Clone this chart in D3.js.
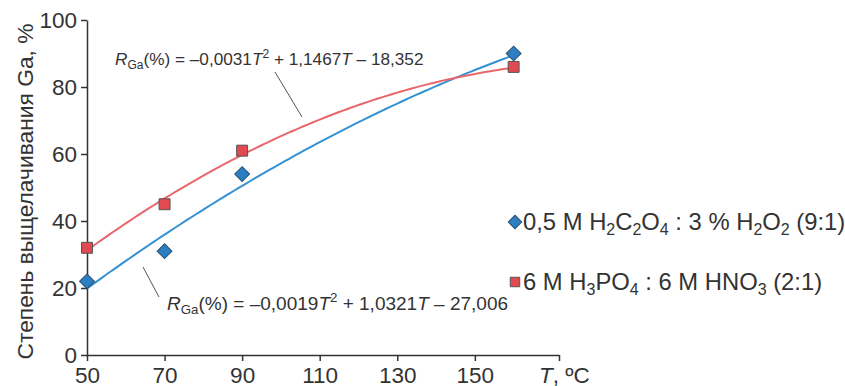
<!DOCTYPE html>
<html>
<head>
<meta charset="utf-8">
<script src="https://cdn.jsdelivr.net/npm/d3@7"></script>
<style>
  body { margin: 0; background: #fff; }
  svg text { font-family: "Liberation Sans", Arial, sans-serif; fill: #333; }
</style>
</head>
<body>
<div id="chart"></div>
<script>
// data
const temps = [50, 70, 90, 160];
const oxalicVals = [22, 31, 54, 90];
const phosphVals = [32, 45, 61, 86];
const xTicks = [50, 70, 90, 110, 130, 150];
const yTicks = [0, 20, 40, 60, 80, 100];
// trendline coefficients as printed (a, b, c for aT^2 + bT + c)
const oxalicFit = [-0.0019, 1.0321, -27.006];
const phosphFit = [-0.0031, 1.1467, -18.352];

const width = 845, height = 386;
const margin = { top: 20, right: 286, bottom: 31, left: 87 };
const xMax = 171.7;

const svg = d3.select("#chart").append("svg")
  .attr("width", width)
  .attr("height", height);

const x = d3.scaleLinear()
  .domain([50, xMax])
  .range([margin.left, width - margin.right]);

const y = d3.scaleLinear()
  .domain([0, 100])
  .range([height - margin.bottom, margin.top]);

// axes
const xAxis = svg.append("g")
  .attr("transform", "translate(0," + y(0) + ")")
  .call(d3.axisBottom(x).tickValues(xTicks.concat([xMax])).tickSize(6).tickSizeOuter(0)
    .tickFormat((d) => d > 160 ? "" : d));
xAxis.select(".domain").attr("stroke", "#333").attr("stroke-width", 1.5);
xAxis.selectAll(".tick line").attr("stroke", "#333").attr("stroke-width", 1.5);
xAxis.selectAll("text").attr("font-size", 22.5).attr("y", 8).attr("dy", "0.88em").attr("fill", "#333");

const yAxis = svg.append("g")
  .attr("transform", "translate(" + x(50) + ",0)")
  .call(d3.axisLeft(y).tickValues(yTicks).tickSize(6).tickSizeOuter(0));
yAxis.select(".domain").attr("stroke", "#333").attr("stroke-width", 1.5);
yAxis.selectAll(".tick line").attr("stroke", "#333").attr("stroke-width", 1.5);
yAxis.selectAll("text").attr("font-size", 22.5).attr("x", -10).attr("dy", "0.34em").attr("fill", "#333");

// axis titles
svg.append("text")
  .attr("transform", "translate(33," + ((margin.top + height - margin.bottom) / 2 + 4) + ") rotate(-90)")
  .attr("text-anchor", "middle")
  .attr("font-size", 22.8)
  .text("Степень выщелачивания Ga, %");

const xt = svg.append("text")
  .attr("x", x(xMax) - 20)
  .attr("y", y(0) + 28)
  .attr("font-size", 22.5);
xt.append("tspan").attr("font-style", "italic").text("T");
xt.append("tspan").text(", ºC");

// trendlines
const poly = (c) => (t) => c[0] * t * t + c[1] * t + c[2];
const trendX = d3.range(temps[0], temps[temps.length - 1] + 0.5, 1);
const line = d3.line()
  .x((d) => x(d[0]))
  .y((d) => y(d[1]));

svg.append("path")
  .attr("d", line(trendX.map((t) => [t, poly(oxalicFit)(t)])))
  .attr("fill", "none")
  .attr("stroke", "#3592d2")
  .attr("stroke-width", 2);

svg.append("path")
  .attr("d", line(trendX.map((t) => [t, poly(phosphFit)(t)])))
  .attr("fill", "none")
  .attr("stroke", "#e8676b")
  .attr("stroke-width", 2);

// markers
svg.append("g").selectAll("path")
  .data(temps.map((t, i) => [t, phosphVals[i]]))
  .enter().append("path")
  .attr("transform", (d) => "translate(" + x(d[0]) + "," + y(d[1]) + ")")
  .attr("d", d3.symbol().type(d3.symbolSquare).size(120))
  .attr("fill", "#e04a50")
  .attr("stroke", "#555")
  .attr("stroke-width", 1);

svg.append("g").selectAll("path")
  .data(temps.map((t, i) => [t, oxalicVals[i]]))
  .enter().append("path")
  .attr("transform", (d) => "translate(" + x(d[0]) + "," + y(d[1]) + ") rotate(45)")
  .attr("d", d3.symbol().type(d3.symbolSquare).size(110))
  .attr("fill", "#2b7fc2")
  .attr("stroke", "#2a4f70")
  .attr("stroke-width", 1);

// equation labels
function equation(xp, yp, fs, parts) {
  const sub = fs * 0.7;
  const t = svg.append("text").attr("x", xp).attr("y", yp).attr("font-size", fs);
  t.append("tspan").attr("font-style", "italic").text("R");
  t.append("tspan").attr("font-size", sub).attr("dy", fs * 0.23).text("Ga");
  t.append("tspan").attr("dy", -fs * 0.23).text("(%) = –" + parts[0]);
  t.append("tspan").attr("font-style", "italic").text("T");
  t.append("tspan").attr("font-size", sub).attr("dy", -fs * 0.4).text("2");
  t.append("tspan").attr("dy", fs * 0.4).text(" + " + parts[1]);
  t.append("tspan").attr("font-style", "italic").text("T");
  t.append("tspan").text(" – " + parts[2]);
}
equation(115, 65, 17.2, ["0,0031", "1,1467", "18,352"]);
equation(167, 310, 19, ["0,0019", "1,0321", "27,006"]);

svg.append("line")
  .attr("x1", 275).attr("y1", 72).attr("x2", 302).attr("y2", 117)
  .attr("stroke", "#555").attr("stroke-width", 1);
svg.append("line")
  .attr("x1", 143).attr("y1", 267).attr("x2", 159).attr("y2", 297)
  .attr("stroke", "#555").attr("stroke-width", 1);

// legend
const legend = svg.append("g");
legend.append("path")
  .attr("transform", "translate(515,222) rotate(45)")
  .attr("d", d3.symbol().type(d3.symbolSquare).size(90))
  .attr("fill", "#2b7fc2").attr("stroke", "#2a4f70");
legend.append("path")
  .attr("transform", "translate(515,282)")
  .attr("d", d3.symbol().type(d3.symbolSquare).size(90))
  .attr("fill", "#e04a50").attr("stroke", "#555");

function chem(xp, yp, segs) {
  const t = legend.append("text").attr("x", xp).attr("y", yp).attr("font-size", 23.8);
  let low = false;
  segs.forEach((s) => {
    if (Array.isArray(s)) {
      t.append("tspan").attr("font-size", 16).attr("dy", low ? 0 : 5).text(s[0]);
      low = true;
    } else {
      t.append("tspan").attr("dy", low ? -5 : 0).text(s);
      low = false;
    }
  });
}
chem(523, 230, ["0,5 M H", ["2"], "C", ["2"], "O", ["4"], " : 3 % H", ["2"], "O", ["2"], " (9:1)"]);
chem(523, 290, ["6 M H", ["3"], "PO", ["4"], " : 6 M HNO", ["3"], " (2:1)"]);
</script>
</body>
</html>
